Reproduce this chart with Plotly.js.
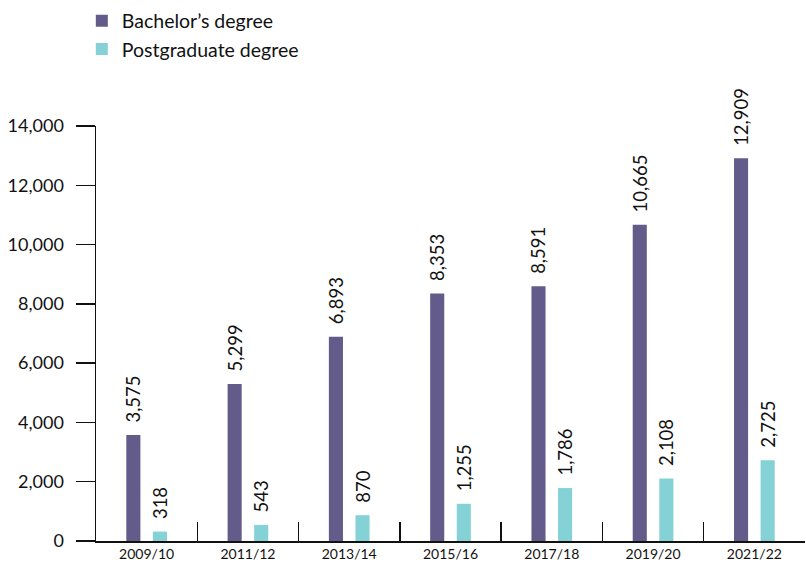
<!DOCTYPE html>
<html>
<head>
<meta charset="utf-8">
<script src="https://cdn.plot.ly/plotly-3.0.1.min.js"></script>
<style>html,body{margin:0;padding:0;background:#fff;}#chart{width:806px;height:575px;}</style>
</head>
<body>
<div id="chart"></div>
<script>
const years = ["2009/10","2011/12","2013/14","2015/16","2017/18","2019/20","2021/22"];
const bachelors = [3575,5299,6893,8353,8591,10665,12909];
const postgraduate = [318,543,870,1255,1786,2108,2725];
const seriesNames = ["Bachelor\u2019s degree","Postgraduate degree"];
const colors = ["#635c8a","#84d2d6"];
const yTicks = [0,2000,4000,6000,8000,10000,12000,14000];

const fmt = v => v.toLocaleString("en-US");
const FONT = "Lato, 'Open Sans', sans-serif";

const mk = (vals, i) => ({
  type: "bar",
  name: seriesNames[i],
  x: years,
  y: vals,
  marker: {color: colors[i]},
  text: vals.map(v => "\u00a0\u00a0" + fmt(v)),
  textposition: "outside",
  textangle: -90,
  constraintext: "none",
  cliponaxis: false,
  textfont: {family: FONT, size: 18.5, color: "#111"},
  hoverinfo: "none"
});

const data = [mk(bachelors,0), mk(postgraduate,1)];

const layout = {
  width: 806, height: 575,
  margin: {l: 96, r: 1, t: 126, b: 34},
  paper_bgcolor: "#fff", plot_bgcolor: "#fff",
  font: {family: FONT, color: "#111"},
  barmode: "group",
  bargap: 0.475,
  bargroupgap: 0.47,
  showlegend: true,
  legend: {
    x: -0.02, xanchor: "left", y: 1.3, yanchor: "top",
    font: {family: FONT, size: 19.5, color: "#111"},
    tracegroupgap: 0, itemwidth: 30, bgcolor: "rgba(0,0,0,0)"
  },
  xaxis: {
    type: "category",
    showline: true, linecolor: "#111", linewidth: 1.5,
    ticks: "inside", tickson: "boundaries", ticklen: 19, tickwidth: 1.5, tickcolor: "#111",
    tickfont: {family: FONT, size: 14, color: "#111"},
    showgrid: false, zeroline: false
  },
  yaxis: {
    range: [0, 14000],
    tickvals: yTicks,
    ticktext: yTicks.map(fmt),
    showline: true, linecolor: "#111", linewidth: 1.5,
    ticks: "outside", ticklen: 19, tickwidth: 1.5, tickcolor: "#111",
    ticklabelstandoff: 8,
    tickfont: {family: FONT, size: 18, color: "#111"},
    showgrid: false, zeroline: false
  }
};

Plotly.newPlot("chart", data, layout, {displayModeBar: false, staticPlot: true});
</script>
</body>
</html>
